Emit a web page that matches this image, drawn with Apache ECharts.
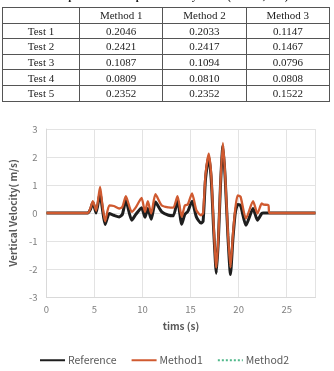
<!DOCTYPE html>
<html lang="en">
<head>
  <meta charset="UTF-8" />
  <title>Vertical velocity comparison</title>
  <script src="https://cdn.jsdelivr.net/npm/echarts@6/dist/echarts.min.js"></script>
  <style>
    body { margin: 0; background: #fff; }
    #wrap { position: relative; width: 334px; height: 371px; overflow: hidden; }
    #chart { position: absolute; left: 0; top: 0; width: 334px; height: 371px; }
    #cap {
      position: absolute; left: 0; top: -10px; width: 334px; text-align: center;
      font: bold 11px "Liberation Serif", serif; color: #222; white-space: nowrap;
    }
    table {
      position: absolute; left: 2px; top: 7px; width: 328px;
      border-collapse: collapse;
      font: 11px "Liberation Serif", serif; color: #222;
    }
    td { border: 1px solid #555; height: 14.6px; padding: 0; text-align: center; line-height: 14px; }
  </style>
</head>
<body>
<div id="wrap">
  <div id="chart"></div>
  <div id="cap">Comparison of the peak velocity error (RMSE, m/s)</div>
  <table id="tbl"></table>
</div>
<script>
// table values
const tableCols = ['Method 1', 'Method 2', 'Method 3'];
const tableRows = ['Test 1', 'Test 2', 'Test 3', 'Test 4', 'Test 5'];
const tableVals = [
  ['0.2046', '0.2033', '0.1147'],
  ['0.2421', '0.2417', '0.1467'],
  ['0.1087', '0.1094', '0.0796'],
  ['0.0809', '0.0810', '0.0808'],
  ['0.2352', '0.2352', '0.1522']
];

// chart series (time in s, velocity in m/s)
const times = [0, 4.3, 4.6, 4.83, 5.17, 5.58, 5.8, 6.1, 6.54, 7.0, 7.57, 7.9, 8.26, 8.87, 9.3, 9.9,
  10.25, 10.55, 10.9, 11.34, 12.0, 12.7, 13.2, 13.64, 14.08, 14.4, 14.7, 15.15, 15.6, 16.07, 16.3,
  16.55, 16.89, 17.15, 17.4, 17.6, 17.68, 17.9, 18.1, 18.36, 18.6, 18.88, 19.15, 19.4, 19.65, 19.9,
  20.2, 20.76, 21.5, 21.96, 22.4, 22.6, 23.1, 23.2, 28];
const refVals = [0, 0, 0.15, 0.38, 0.0, 0.72, 0.2, -0.41, -0.02, -0.08, -0.14, -0.05, 0.45, -0.26, -0.05, 0.19,
  -0.15, 0.16, -0.22, 0.39, 0.04, -0.08, -0.1, 0.45, -0.4, -0.05, 0.05, 0.42, -0.14, -0.36, -0.3,
  1.2, 2.02, 1.2, -0.6, -1.85, -2.15, -0.9, 0.9, 2.4, 1.25, -0.8, -2.2, -0.95, 0.0, 0.3,
  0.27, -0.44, 0.16, -0.26, -0.02, 0.0, 0, 0, 0];
const method1Vals = [0, 0, 0.2, 0.42, 0.08, 0.93, 0.35, -0.3, 0.27, 0.25, 0.16, 0.22, 0.6, 0.04, 0.2, 0.54,
  0.04, 0.42, -0.02, 0.67, 0.27, 0.2, 0.19, 0.6, -0.14, 0.27, 0.3, 0.7, 0.1, -0.08, 0.0,
  1.35, 2.12, 1.35, -0.44, -1.7, -1.95, -0.8, 1.0, 2.5, 1.35, -0.68, -1.95, -0.8, 0.15, 0.63,
  0.58, -0.2, 0.42, -0.02, 0.34, 0.3, 0.28, 0, 0];
const method2Vals = [0, 0, 0.2, 0.41, 0.08, 0.92, 0.35, -0.3, 0.27, 0.25, 0.16, 0.22, 0.6, 0.04, 0.2, 0.53,
  0.04, 0.42, -0.02, 0.66, 0.27, 0.2, 0.19, 0.6, -0.14, 0.27, 0.3, 0.69, 0.1, -0.08, 0.0,
  1.34, 2.11, 1.35, -0.44, -1.7, -1.96, -0.8, 1.0, 2.49, 1.35, -0.68, -1.96, -0.8, 0.15, 0.62,
  0.58, -0.2, 0.42, -0.02, 0.34, 0.3, 0.28, 0, 0];
const xTicks = [0, 5, 10, 15, 20, 25];

// build table
let html = '<tr><td style="width:76px"></td>' + tableCols.map(c => '<td>' + c + '</td>').join('') + '</tr>';
tableRows.forEach((r, i) => {
  html += '<tr><td>' + r + '</td>' + tableVals[i].map(v => '<td>' + v + '</td>').join('') + '</tr>';
});
document.getElementById('tbl').innerHTML = html;

const pairs = vals => times.map((t, i) => [t, vals[i]]);
const font = '"Noto Sans CJK KR", "Noto Sans", sans-serif';

const chart = echarts.init(document.getElementById('chart'));
chart.setOption({
  animation: false,
  textStyle: { fontFamily: font },
  grid: { left: 43, right: 18.5, top: 129, bottom: 74 },
  legend: {
    data: ['Reference', 'Method1', 'Method2'],
    left: 39, top: 355, padding: 0,
    itemWidth: 25, itemHeight: 8, itemGap: 14,
    itemStyle: { opacity: 0 },
    textStyle: { fontFamily: font, fontSize: 10.5, color: '#595959', padding: [0, 0, 0, -2] }
  },
  xAxis: {
    type: 'value', min: 0, max: 28, interval: 5,
    name: 'tims (s)', nameLocation: 'middle', nameGap: 24,
    nameTextStyle: { fontFamily: font, fontSize: 10, fontWeight: 'bold', color: '#595959' },
    axisLine: { show: true, onZero: false, lineStyle: { color: '#d9d9d9' } },
    axisTick: { show: false },
    axisLabel: {
      margin: 8, fontSize: 9.5, color: '#7f7f7f',
      formatter: v => xTicks.includes(v) ? String(v) : ''
    },
    splitLine: { lineStyle: { color: '#e3e3e3' } }
  },
  yAxis: {
    type: 'value', min: -3, max: 3, interval: 1,
    name: 'Vertical Velocity( m/s)', nameLocation: 'middle', nameGap: 25,
    nameTextStyle: { fontFamily: font, fontSize: 10, fontWeight: 'bold', color: '#595959' },
    axisLine: { show: true, lineStyle: { color: '#d9d9d9' } },
    axisTick: { show: false },
    axisLabel: { margin: 9, fontSize: 9.5, color: '#7f7f7f' },
    splitLine: { lineStyle: { color: '#e3e3e3' } }
  },
  series: [
    {
      name: 'Reference', type: 'line', data: pairs(refVals), symbol: 'none', z: 2, smooth: 0.2,
      lineStyle: { color: '#1e1e1e', width: 3 }, itemStyle: { color: '#1e1e1e' }
    },
    {
      name: 'Method2', type: 'line', data: pairs(method2Vals), symbol: 'none', z: 3, smooth: 0.2,
      lineStyle: { color: '#4fb88a', width: 1, type: 'dotted' }, itemStyle: { color: '#4fb88a' }
    },
    {
      name: 'Method1', type: 'line', data: pairs(method1Vals), symbol: 'none', z: 4, smooth: 0.2,
      lineStyle: { color: '#d05a30', width: 2.3 }, itemStyle: { color: '#d05a30' }
    }
  ]
});
</script>
</body>
</html>
